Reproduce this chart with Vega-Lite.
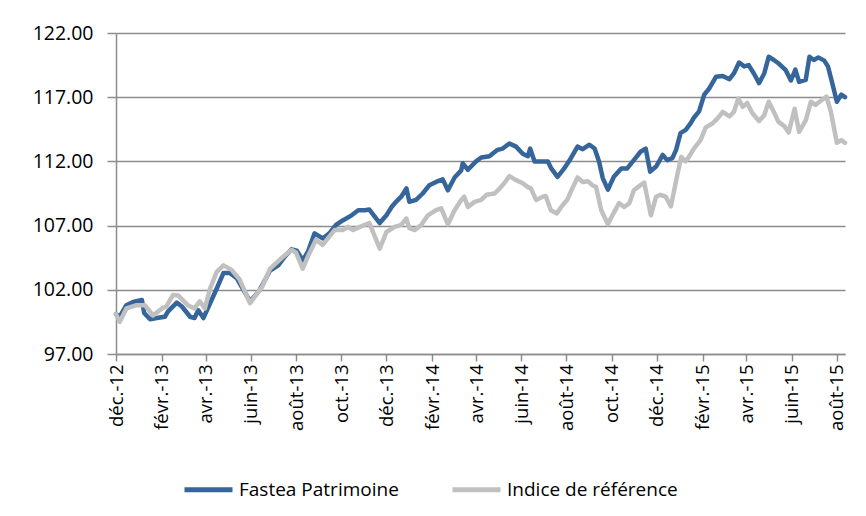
{
  "$schema": "https://vega.github.io/schema/vega-lite/v6.json",
  "width": 729,
  "height": 321,
  "autosize": "none",
  "padding": {"left": 116, "top": 33, "right": 21, "bottom": 162},
  "background": "white",
  "config": {
    "view": {"stroke": null},
    "font": "Open Sans"
  },
  "data": {
    "values": [
      {"d":"2012-12-01","s":"Fastea Patrimoine","v":100.1},
      {"d":"2012-12-06","s":"Fastea Patrimoine","v":99.9},
      {"d":"2012-12-15","s":"Fastea Patrimoine","v":100.8},
      {"d":"2012-12-24","s":"Fastea Patrimoine","v":101.05},
      {"d":"2013-01-05","s":"Fastea Patrimoine","v":101.2},
      {"d":"2013-01-08","s":"Fastea Patrimoine","v":100.2},
      {"d":"2013-01-16","s":"Fastea Patrimoine","v":99.7},
      {"d":"2013-01-25","s":"Fastea Patrimoine","v":99.8},
      {"d":"2013-02-05","s":"Fastea Patrimoine","v":99.9},
      {"d":"2013-02-09","s":"Fastea Patrimoine","v":100.3},
      {"d":"2013-02-21","s":"Fastea Patrimoine","v":101.0},
      {"d":"2013-02-28","s":"Fastea Patrimoine","v":100.7},
      {"d":"2013-03-11","s":"Fastea Patrimoine","v":99.9},
      {"d":"2013-03-17","s":"Fastea Patrimoine","v":99.8},
      {"d":"2013-03-22","s":"Fastea Patrimoine","v":100.4},
      {"d":"2013-03-29","s":"Fastea Patrimoine","v":99.8},
      {"d":"2013-04-07","s":"Fastea Patrimoine","v":100.95},
      {"d":"2013-04-16","s":"Fastea Patrimoine","v":102.1},
      {"d":"2013-04-25","s":"Fastea Patrimoine","v":103.3},
      {"d":"2013-05-04","s":"Fastea Patrimoine","v":103.3},
      {"d":"2013-05-13","s":"Fastea Patrimoine","v":102.9},
      {"d":"2013-05-22","s":"Fastea Patrimoine","v":102.0},
      {"d":"2013-05-31","s":"Fastea Patrimoine","v":101.1},
      {"d":"2013-06-09","s":"Fastea Patrimoine","v":101.7},
      {"d":"2013-06-13","s":"Fastea Patrimoine","v":102.0},
      {"d":"2013-06-27","s":"Fastea Patrimoine","v":103.5},
      {"d":"2013-07-08","s":"Fastea Patrimoine","v":103.9},
      {"d":"2013-07-17","s":"Fastea Patrimoine","v":104.6},
      {"d":"2013-07-26","s":"Fastea Patrimoine","v":105.15},
      {"d":"2013-08-02","s":"Fastea Patrimoine","v":105.05},
      {"d":"2013-08-10","s":"Fastea Patrimoine","v":104.3},
      {"d":"2013-08-17","s":"Fastea Patrimoine","v":104.95},
      {"d":"2013-08-26","s":"Fastea Patrimoine","v":106.4},
      {"d":"2013-09-06","s":"Fastea Patrimoine","v":106.0},
      {"d":"2013-09-15","s":"Fastea Patrimoine","v":106.4},
      {"d":"2013-09-24","s":"Fastea Patrimoine","v":107.05},
      {"d":"2013-10-03","s":"Fastea Patrimoine","v":107.4},
      {"d":"2013-10-15","s":"Fastea Patrimoine","v":107.8},
      {"d":"2013-10-24","s":"Fastea Patrimoine","v":108.2},
      {"d":"2013-11-02","s":"Fastea Patrimoine","v":108.2},
      {"d":"2013-11-08","s":"Fastea Patrimoine","v":108.25},
      {"d":"2013-11-22","s":"Fastea Patrimoine","v":107.2},
      {"d":"2013-12-01","s":"Fastea Patrimoine","v":107.8},
      {"d":"2013-12-08","s":"Fastea Patrimoine","v":108.45},
      {"d":"2013-12-14","s":"Fastea Patrimoine","v":108.85},
      {"d":"2013-12-21","s":"Fastea Patrimoine","v":109.25},
      {"d":"2013-12-28","s":"Fastea Patrimoine","v":109.9},
      {"d":"2014-01-01","s":"Fastea Patrimoine","v":108.85},
      {"d":"2014-01-10","s":"Fastea Patrimoine","v":109.0},
      {"d":"2014-01-19","s":"Fastea Patrimoine","v":109.5},
      {"d":"2014-01-28","s":"Fastea Patrimoine","v":110.15},
      {"d":"2014-02-06","s":"Fastea Patrimoine","v":110.4},
      {"d":"2014-02-15","s":"Fastea Patrimoine","v":110.6},
      {"d":"2014-02-22","s":"Fastea Patrimoine","v":109.75},
      {"d":"2014-03-03","s":"Fastea Patrimoine","v":110.75},
      {"d":"2014-03-12","s":"Fastea Patrimoine","v":111.3},
      {"d":"2014-03-14","s":"Fastea Patrimoine","v":111.85},
      {"d":"2014-03-21","s":"Fastea Patrimoine","v":111.35},
      {"d":"2014-04-01","s":"Fastea Patrimoine","v":112.0},
      {"d":"2014-04-08","s":"Fastea Patrimoine","v":112.3},
      {"d":"2014-04-19","s":"Fastea Patrimoine","v":112.4},
      {"d":"2014-04-30","s":"Fastea Patrimoine","v":112.9},
      {"d":"2014-05-07","s":"Fastea Patrimoine","v":113.0},
      {"d":"2014-05-16","s":"Fastea Patrimoine","v":113.4},
      {"d":"2014-05-25","s":"Fastea Patrimoine","v":113.15},
      {"d":"2014-06-03","s":"Fastea Patrimoine","v":112.6},
      {"d":"2014-06-10","s":"Fastea Patrimoine","v":112.4},
      {"d":"2014-06-13","s":"Fastea Patrimoine","v":113.0},
      {"d":"2014-06-19","s":"Fastea Patrimoine","v":112.0},
      {"d":"2014-06-28","s":"Fastea Patrimoine","v":112.0},
      {"d":"2014-07-07","s":"Fastea Patrimoine","v":112.0},
      {"d":"2014-07-11","s":"Fastea Patrimoine","v":111.5},
      {"d":"2014-07-20","s":"Fastea Patrimoine","v":110.8},
      {"d":"2014-07-29","s":"Fastea Patrimoine","v":111.45},
      {"d":"2014-08-07","s":"Fastea Patrimoine","v":112.25},
      {"d":"2014-08-16","s":"Fastea Patrimoine","v":113.15},
      {"d":"2014-08-23","s":"Fastea Patrimoine","v":112.95},
      {"d":"2014-09-01","s":"Fastea Patrimoine","v":113.3},
      {"d":"2014-09-08","s":"Fastea Patrimoine","v":113.0},
      {"d":"2014-09-14","s":"Fastea Patrimoine","v":112.0},
      {"d":"2014-09-19","s":"Fastea Patrimoine","v":110.7},
      {"d":"2014-09-26","s":"Fastea Patrimoine","v":109.8},
      {"d":"2014-10-04","s":"Fastea Patrimoine","v":110.8},
      {"d":"2014-10-14","s":"Fastea Patrimoine","v":111.45},
      {"d":"2014-10-22","s":"Fastea Patrimoine","v":111.45},
      {"d":"2014-10-31","s":"Fastea Patrimoine","v":112.1},
      {"d":"2014-11-09","s":"Fastea Patrimoine","v":112.75},
      {"d":"2014-11-16","s":"Fastea Patrimoine","v":113.0},
      {"d":"2014-11-22","s":"Fastea Patrimoine","v":111.2},
      {"d":"2014-11-30","s":"Fastea Patrimoine","v":111.6},
      {"d":"2014-12-09","s":"Fastea Patrimoine","v":112.5},
      {"d":"2014-12-15","s":"Fastea Patrimoine","v":112.1},
      {"d":"2014-12-22","s":"Fastea Patrimoine","v":112.25},
      {"d":"2014-12-27","s":"Fastea Patrimoine","v":112.9},
      {"d":"2015-01-02","s":"Fastea Patrimoine","v":114.2},
      {"d":"2015-01-09","s":"Fastea Patrimoine","v":114.45},
      {"d":"2015-01-16","s":"Fastea Patrimoine","v":115.0},
      {"d":"2015-01-20","s":"Fastea Patrimoine","v":115.4},
      {"d":"2015-01-27","s":"Fastea Patrimoine","v":115.9},
      {"d":"2015-02-03","s":"Fastea Patrimoine","v":117.2},
      {"d":"2015-02-10","s":"Fastea Patrimoine","v":117.7},
      {"d":"2015-02-19","s":"Fastea Patrimoine","v":118.6},
      {"d":"2015-02-28","s":"Fastea Patrimoine","v":118.65},
      {"d":"2015-03-09","s":"Fastea Patrimoine","v":118.4},
      {"d":"2015-03-15","s":"Fastea Patrimoine","v":118.85},
      {"d":"2015-03-22","s":"Fastea Patrimoine","v":119.7},
      {"d":"2015-03-29","s":"Fastea Patrimoine","v":119.4},
      {"d":"2015-04-04","s":"Fastea Patrimoine","v":119.5},
      {"d":"2015-04-11","s":"Fastea Patrimoine","v":118.85},
      {"d":"2015-04-18","s":"Fastea Patrimoine","v":118.1},
      {"d":"2015-04-25","s":"Fastea Patrimoine","v":118.85},
      {"d":"2015-05-01","s":"Fastea Patrimoine","v":120.15},
      {"d":"2015-05-08","s":"Fastea Patrimoine","v":119.9},
      {"d":"2015-05-15","s":"Fastea Patrimoine","v":119.6},
      {"d":"2015-05-24","s":"Fastea Patrimoine","v":119.1},
      {"d":"2015-05-31","s":"Fastea Patrimoine","v":118.3},
      {"d":"2015-06-06","s":"Fastea Patrimoine","v":119.15},
      {"d":"2015-06-11","s":"Fastea Patrimoine","v":118.2},
      {"d":"2015-06-20","s":"Fastea Patrimoine","v":118.35},
      {"d":"2015-06-25","s":"Fastea Patrimoine","v":120.15},
      {"d":"2015-07-01","s":"Fastea Patrimoine","v":119.9},
      {"d":"2015-07-07","s":"Fastea Patrimoine","v":120.1},
      {"d":"2015-07-15","s":"Fastea Patrimoine","v":119.85},
      {"d":"2015-07-20","s":"Fastea Patrimoine","v":119.4},
      {"d":"2015-07-26","s":"Fastea Patrimoine","v":118.05},
      {"d":"2015-08-01","s":"Fastea Patrimoine","v":116.65},
      {"d":"2015-08-07","s":"Fastea Patrimoine","v":117.2},
      {"d":"2015-08-12","s":"Fastea Patrimoine","v":117.0},

      {"d":"2012-12-01","s":"Indice de référence","v":100.1},
      {"d":"2012-12-06","s":"Indice de référence","v":99.5},
      {"d":"2012-12-15","s":"Indice de référence","v":100.55},
      {"d":"2012-12-29","s":"Indice de référence","v":100.8},
      {"d":"2013-01-09","s":"Indice de référence","v":100.8},
      {"d":"2013-01-20","s":"Indice de référence","v":100.0},
      {"d":"2013-02-01","s":"Indice de référence","v":100.55},
      {"d":"2013-02-07","s":"Indice de référence","v":100.7},
      {"d":"2013-02-16","s":"Indice de référence","v":101.6},
      {"d":"2013-02-23","s":"Indice de référence","v":101.55},
      {"d":"2013-03-08","s":"Indice de référence","v":100.8},
      {"d":"2013-03-17","s":"Indice de référence","v":100.55},
      {"d":"2013-03-24","s":"Indice de référence","v":101.1},
      {"d":"2013-03-31","s":"Indice de référence","v":100.55},
      {"d":"2013-04-07","s":"Indice de référence","v":102.1},
      {"d":"2013-04-16","s":"Indice de référence","v":103.4},
      {"d":"2013-04-25","s":"Indice de référence","v":103.9},
      {"d":"2013-05-06","s":"Indice de référence","v":103.55},
      {"d":"2013-05-17","s":"Indice de référence","v":102.8},
      {"d":"2013-05-31","s":"Indice de référence","v":100.95},
      {"d":"2013-06-11","s":"Indice de référence","v":101.85},
      {"d":"2013-06-16","s":"Indice de référence","v":102.2},
      {"d":"2013-06-27","s":"Indice de référence","v":103.65},
      {"d":"2013-07-17","s":"Indice de référence","v":104.7},
      {"d":"2013-07-26","s":"Indice de référence","v":105.1},
      {"d":"2013-08-01","s":"Indice de référence","v":104.9},
      {"d":"2013-08-10","s":"Indice de référence","v":103.65},
      {"d":"2013-08-19","s":"Indice de référence","v":104.85},
      {"d":"2013-08-28","s":"Indice de référence","v":105.9},
      {"d":"2013-09-06","s":"Indice de référence","v":105.5},
      {"d":"2013-09-22","s":"Indice de référence","v":106.65},
      {"d":"2013-10-03","s":"Indice de référence","v":106.65},
      {"d":"2013-10-10","s":"Indice de référence","v":106.9},
      {"d":"2013-10-17","s":"Indice de référence","v":106.65},
      {"d":"2013-10-26","s":"Indice de référence","v":106.9},
      {"d":"2013-11-08","s":"Indice de référence","v":107.2},
      {"d":"2013-11-22","s":"Indice de référence","v":105.2},
      {"d":"2013-12-01","s":"Indice de référence","v":106.5},
      {"d":"2013-12-12","s":"Indice de référence","v":106.9},
      {"d":"2013-12-21","s":"Indice de référence","v":107.05},
      {"d":"2013-12-28","s":"Indice de référence","v":107.55},
      {"d":"2014-01-01","s":"Indice de référence","v":106.8},
      {"d":"2014-01-08","s":"Indice de référence","v":106.65},
      {"d":"2014-01-17","s":"Indice de référence","v":107.05},
      {"d":"2014-01-26","s":"Indice de référence","v":107.8},
      {"d":"2014-02-06","s":"Indice de référence","v":108.2},
      {"d":"2014-02-13","s":"Indice de référence","v":108.35},
      {"d":"2014-02-22","s":"Indice de référence","v":107.1},
      {"d":"2014-03-03","s":"Indice de référence","v":108.2},
      {"d":"2014-03-12","s":"Indice de référence","v":109.0},
      {"d":"2014-03-16","s":"Indice de référence","v":109.25},
      {"d":"2014-03-21","s":"Indice de référence","v":108.45},
      {"d":"2014-03-30","s":"Indice de référence","v":108.85},
      {"d":"2014-04-08","s":"Indice de référence","v":109.0},
      {"d":"2014-04-15","s":"Indice de référence","v":109.4},
      {"d":"2014-04-26","s":"Indice de référence","v":109.5},
      {"d":"2014-05-03","s":"Indice de référence","v":109.9},
      {"d":"2014-05-09","s":"Indice de référence","v":110.3},
      {"d":"2014-05-16","s":"Indice de référence","v":110.85},
      {"d":"2014-05-23","s":"Indice de référence","v":110.6},
      {"d":"2014-06-03","s":"Indice de référence","v":110.3},
      {"d":"2014-06-10","s":"Indice de référence","v":110.0},
      {"d":"2014-06-14","s":"Indice de référence","v":109.9},
      {"d":"2014-06-21","s":"Indice de référence","v":109.0},
      {"d":"2014-06-30","s":"Indice de référence","v":109.25},
      {"d":"2014-07-04","s":"Indice de référence","v":109.3},
      {"d":"2014-07-11","s":"Indice de référence","v":108.2},
      {"d":"2014-07-19","s":"Indice de référence","v":107.95},
      {"d":"2014-07-27","s":"Indice de référence","v":108.6},
      {"d":"2014-08-02","s":"Indice de référence","v":109.0},
      {"d":"2014-08-09","s":"Indice de référence","v":109.9},
      {"d":"2014-08-16","s":"Indice de référence","v":110.75},
      {"d":"2014-08-23","s":"Indice de référence","v":110.4},
      {"d":"2014-08-30","s":"Indice de référence","v":110.45},
      {"d":"2014-09-05","s":"Indice de référence","v":110.15},
      {"d":"2014-09-10","s":"Indice de référence","v":110.0},
      {"d":"2014-09-17","s":"Indice de référence","v":108.2},
      {"d":"2014-09-26","s":"Indice de référence","v":107.1},
      {"d":"2014-10-02","s":"Indice de référence","v":107.8},
      {"d":"2014-10-11","s":"Indice de référence","v":108.75},
      {"d":"2014-10-18","s":"Indice de référence","v":108.45},
      {"d":"2014-10-25","s":"Indice de référence","v":108.75},
      {"d":"2014-10-31","s":"Indice de référence","v":109.75},
      {"d":"2014-11-09","s":"Indice de référence","v":110.15},
      {"d":"2014-11-14","s":"Indice de référence","v":110.35},
      {"d":"2014-11-23","s":"Indice de référence","v":107.8},
      {"d":"2014-11-30","s":"Indice de référence","v":109.25},
      {"d":"2014-12-06","s":"Indice de référence","v":109.4},
      {"d":"2014-12-13","s":"Indice de référence","v":109.25},
      {"d":"2014-12-20","s":"Indice de référence","v":108.5},
      {"d":"2014-12-29","s":"Indice de référence","v":111.05},
      {"d":"2015-01-03","s":"Indice de référence","v":112.35},
      {"d":"2015-01-09","s":"Indice de référence","v":112.0},
      {"d":"2015-01-16","s":"Indice de référence","v":112.6},
      {"d":"2015-01-20","s":"Indice de référence","v":113.0},
      {"d":"2015-01-29","s":"Indice de référence","v":113.65},
      {"d":"2015-02-05","s":"Indice de référence","v":114.65},
      {"d":"2015-02-14","s":"Indice de référence","v":114.95},
      {"d":"2015-02-21","s":"Indice de référence","v":115.35},
      {"d":"2015-02-28","s":"Indice de référence","v":115.85},
      {"d":"2015-03-09","s":"Indice de référence","v":115.5},
      {"d":"2015-03-15","s":"Indice de référence","v":115.85},
      {"d":"2015-03-21","s":"Indice de référence","v":116.9},
      {"d":"2015-03-27","s":"Indice de référence","v":116.25},
      {"d":"2015-04-02","s":"Indice de référence","v":116.55},
      {"d":"2015-04-09","s":"Indice de référence","v":115.75},
      {"d":"2015-04-18","s":"Indice de référence","v":115.15},
      {"d":"2015-04-25","s":"Indice de référence","v":115.6},
      {"d":"2015-05-01","s":"Indice de référence","v":116.65},
      {"d":"2015-05-08","s":"Indice de référence","v":115.85},
      {"d":"2015-05-14","s":"Indice de référence","v":115.1},
      {"d":"2015-05-22","s":"Indice de référence","v":114.75},
      {"d":"2015-05-28","s":"Indice de référence","v":114.25},
      {"d":"2015-06-05","s":"Indice de référence","v":116.1},
      {"d":"2015-06-11","s":"Indice de référence","v":114.3},
      {"d":"2015-06-20","s":"Indice de référence","v":115.2},
      {"d":"2015-06-27","s":"Indice de référence","v":116.65},
      {"d":"2015-07-03","s":"Indice de référence","v":116.4},
      {"d":"2015-07-10","s":"Indice de référence","v":116.7},
      {"d":"2015-07-18","s":"Indice de référence","v":117.05},
      {"d":"2015-07-24","s":"Indice de référence","v":115.85},
      {"d":"2015-08-01","s":"Indice de référence","v":113.45},
      {"d":"2015-08-07","s":"Indice de référence","v":113.65},
      {"d":"2015-08-12","s":"Indice de référence","v":113.45}
    ]
  },
  "mark": {"type": "line", "strokeWidth": 4.5, "strokeJoin": "round", "strokeCap": "round", "clip": false},
  "encoding": {
    "x": {
      "field": "d",
      "type": "temporal",
      "scale": {
        "type": "utc",
        "domain": [
          {"year": 2012, "month": 12, "date": 1, "utc": true},
          {"year": 2015, "month": 8, "date": 12, "utc": true}
        ]
      },
      "axis": {
        "title": null,
        "grid": false,
        "values": [
          {"year": 2012, "month": 12, "date": 1, "utc": true},
          {"year": 2013, "month": 2, "date": 1, "utc": true},
          {"year": 2013, "month": 4, "date": 1, "utc": true},
          {"year": 2013, "month": 6, "date": 1, "utc": true},
          {"year": 2013, "month": 8, "date": 1, "utc": true},
          {"year": 2013, "month": 10, "date": 1, "utc": true},
          {"year": 2013, "month": 12, "date": 1, "utc": true},
          {"year": 2014, "month": 2, "date": 1, "utc": true},
          {"year": 2014, "month": 4, "date": 1, "utc": true},
          {"year": 2014, "month": 6, "date": 1, "utc": true},
          {"year": 2014, "month": 8, "date": 1, "utc": true},
          {"year": 2014, "month": 10, "date": 1, "utc": true},
          {"year": 2014, "month": 12, "date": 1, "utc": true},
          {"year": 2015, "month": 2, "date": 1, "utc": true},
          {"year": 2015, "month": 4, "date": 1, "utc": true},
          {"year": 2015, "month": 6, "date": 1, "utc": true},
          {"year": 2015, "month": 8, "date": 1, "utc": true}
        ],
        "labelExpr": "['janv.','févr.','mars','avr.','mai','juin','juil.','août','sept.','oct.','nov.','déc.'][utcmonth(datum.value)] + '-' + utcFormat(datum.value, '%y')",
        "labelAngle": -90,
        "labelFont": "Open Sans",
        "labelFontSize": 18.5,
        "labelColor": "#000000",
        "labelPadding": 3,
        "labelOverlap": false,
        "labelFlush": false,
        "domainColor": "#8c8c8c",
        "domainWidth": 1.5,
        "tickColor": "#8c8c8c",
        "tickWidth": 1.5,
        "tickSize": 7
      }
    },
    "y": {
      "field": "v",
      "type": "quantitative",
      "scale": {"domain": [97, 122], "nice": false, "zero": false},
      "axis": {
        "title": null,
        "values": [97, 102, 107, 112, 117, 122],
        "format": ".2f",
        "grid": true,
        "gridColor": "#8c8c8c",
        "gridWidth": 1.5,
        "labelFont": "Open Sans",
        "labelFontSize": 19.5,
        "labelColor": "#000000",
        "labelPadding": 14,
        "domainColor": "#8c8c8c",
        "domainWidth": 1.5,
        "tickColor": "#8c8c8c",
        "tickWidth": 1.5,
        "tickSize": 9
      }
    },
    "color": {
      "field": "s",
      "type": "nominal",
      "scale": {"domain": ["Fastea Patrimoine", "Indice de référence"], "range": ["#35659A", "#C0C0C0"]},
      "legend": {
        "title": null,
        "orient": "none",
        "direction": "horizontal",
        "legendX": 66,
        "legendY": 430,
        "symbolType": "stroke",
        "symbolSize": 2304,
        "symbolStrokeWidth": 5,
        "labelFont": "Open Sans",
        "labelFontSize": 19,
        "labelColor": "#000000",
        "labelOffset": 4,
        "columnPadding": 43,
        "padding": 0,
        "labelLimit": 400
      }
    }
  }
}
